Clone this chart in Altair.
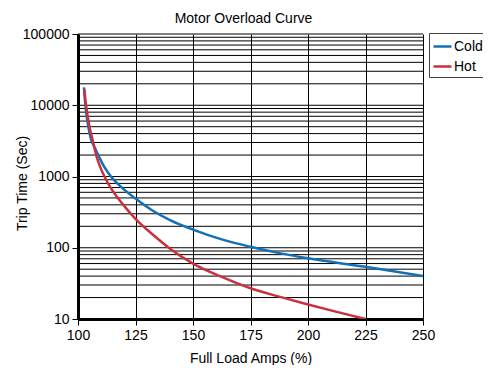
import altair as alt
import pandas as pd

cold_x = [102.6, 103.2, 104.5, 105.7, 107.0, 109.3, 111.5, 114.3, 118, 125, 132, 140, 150, 162.5, 175, 187.5, 200, 225, 250]
cold_y = [17800, 10000, 5000, 3300, 2650, 1850, 1350, 1000, 750, 490, 339, 245, 180, 131, 103, 84, 71, 54, 40]
hot_x = [102.7, 103.5, 105, 106.6, 108.1, 109.5, 111.5, 113.9, 117.5, 120.4, 125, 132.75, 140, 150, 162.5, 175, 187.5, 200, 212.5, 225]
hot_y = [17000, 10000, 5000, 3000, 1900, 1400, 1000, 720, 490, 375, 255, 151, 97, 60, 39, 27, 20.6, 16, 12.6, 10]
series = ["Cold", "Hot"]
colors = ["#1170b8", "#c8313d"]
x_ticks = [100, 125, 150, 175, 200, 225, 250]
y_ticks = [10, 100, 1000, 10000, 100000]
grid_vals = [m * 10 ** e for e in range(1, 5) for m in range(1, 10)] + [100000]

df = pd.DataFrame({
    "amps": cold_x + hot_x,
    "time": cold_y + hot_y,
    "series": ["Cold"] * len(cold_x) + ["Hot"] * len(hot_x),
})
grid_df = pd.DataFrame({"time": grid_vals})

FONT = "Liberation Sans"

xscale = alt.Scale(domain=[100, 250], nice=False, zero=False)
yscale = alt.Scale(type="log", domain=[10, 100000], nice=False)
yaxis = alt.Axis(title="Trip Time (Sec)", values=y_ticks, grid=False, format="d",
                 titleX=-56, titleY=149, titleBaseline="middle", titleAngle=270)
xaxis = alt.Axis(title="Full Load Amps (%)", values=x_ticks, grid=True, labelFlush=False,
                 gridColor="black", gridWidth=1, gridOpacity=1)

grid = alt.Chart(grid_df).mark_rule(color="black", strokeWidth=1).encode(
    y=alt.Y("time:Q", scale=yscale, axis=yaxis)
)

lines = alt.Chart(df).mark_line(strokeWidth=2.5, interpolate="monotone", clip=True).encode(
    x=alt.X("amps:Q", scale=xscale, axis=xaxis),
    y=alt.Y("time:Q", scale=yscale, axis=yaxis),
    color=alt.Color("series:N", scale=alt.Scale(domain=series, range=colors),
                    legend=alt.Legend(title=None, orient="none", legendX=351, legendY=-1,
                                      symbolType="stroke", symbolSize=324,
                                      symbolStrokeWidth=2.5, labelFontSize=14,
                                      labelFont=FONT, labelOffset=1, padding=3,
                                      rowPadding=2, strokeColor="#444",
                                      fillColor="white", labelColor="black")),
)

chart = alt.layer(grid, lines).properties(
    width=345, height=285,
    title=alt.TitleParams("Motor Overload Curve", fontSize=14, fontWeight="normal",
                          font=FONT, color="black", offset=1, dx=-7),
    autosize=alt.AutoSizeParams(type="none"),
    padding={"left": 70, "top": 26, "right": 60, "bottom": 46},
).configure_axis(
    domainColor="black", domainWidth=3, tickColor="black", tickSize=6,
    labelFont=FONT, labelFontSize=14, labelColor="black", labelPadding=3,
    titleFont=FONT, titleFontSize=14, titleFontWeight="normal", titleColor="black",
).configure_axisX(titlePadding=9).configure_view(stroke=None)

chart.save("out.html", embed_options={"renderer": "svg", "actions": False})
